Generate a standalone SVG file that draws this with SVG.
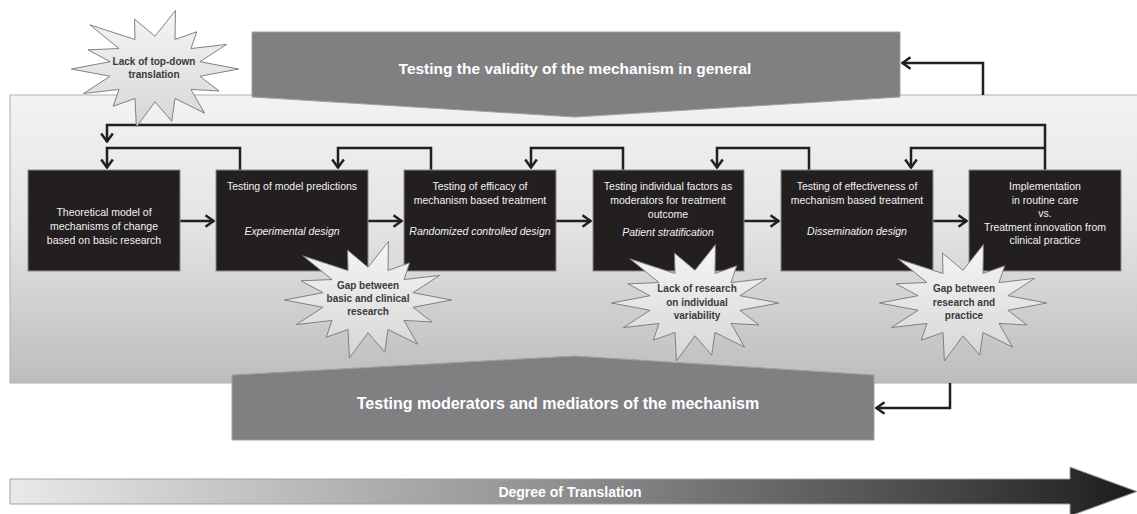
<svg xmlns="http://www.w3.org/2000/svg" width="1137" height="514" viewBox="0 0 1137 514">
<style>
.box{fill:#231f20;stroke:#8a8a8a;stroke-width:1}
.bt{font-family:"Liberation Sans",Arial,sans-serif;font-size:10.5px;fill:#f2f2f2;text-anchor:middle}
.it{font-style:italic}
.ban{fill:#808083;stroke:#a0a0a0;stroke-width:1}
.bant{font-family:"Liberation Sans",Arial,sans-serif;font-weight:bold;fill:#ffffff;text-anchor:middle}
.st{fill:url(#starg);stroke:#7a7a7a;stroke-width:1}
.stt{font-family:"Liberation Sans",Arial,sans-serif;font-size:10px;font-weight:bold;fill:#3a3a3a;text-anchor:middle}
.con{fill:none;stroke:#231f20;stroke-width:2.5}
</style>
<defs>
<linearGradient id="panelg" x1="0" y1="0" x2="0" y2="1">
<stop offset="0" stop-color="#f3f3f3"/>
<stop offset="0.45" stop-color="#e4e4e4"/>
<stop offset="1" stop-color="#bdbdbd"/>
</linearGradient>
<linearGradient id="starg" x1="0" y1="0" x2="0" y2="1">
<stop offset="0" stop-color="#f5f5f5"/>
<stop offset="1" stop-color="#d6d6d6"/>
</linearGradient>
<linearGradient id="degg" x1="0" y1="0" x2="1" y2="0">
<stop offset="0" stop-color="#e8e9ea"/>
<stop offset="0.5" stop-color="#8d8d8f"/>
<stop offset="0.8" stop-color="#4d4d4f"/>
<stop offset="1" stop-color="#1e1b1c"/>
</linearGradient>
<marker id="arr" viewBox="0 0 11 14" refX="10" refY="7" markerWidth="11" markerHeight="14" markerUnits="userSpaceOnUse" orient="auto">
<path d="M1.5,1.2 L9.5,7 L1.5,12.8" fill="none" stroke="#231f20" stroke-width="2.5"/>
</marker>
<polygon id="star" points="90,0 48.3,7.6 68.9,22.9 38.7,21.3 53.3,46 21.5,30.7 18,54.4 0,34.1 -20,60.4 -21.5,30.7 -44.9,38.8 -38.7,21.3 -77,25.6 -48.3,7.6 -90,0 -48.3,-7.6 -72,-20 -38.7,-21.3 -70,-46 -21.5,-30.7 -22,-52 0,-34.1 22,-61 21.5,-30.7 44.9,-38.8 38.7,-21.3 77,-25.6 48.3,-7.6"/>
</defs>

<rect x="0" y="0" width="1137" height="514" fill="#ffffff"/>

<g id="panel">
<rect x="10" y="95" width="1130" height="288" fill="url(#panelg)" stroke="#b0b0b0" stroke-width="1"/>
</g>

<g id="banner-top">
<path class="ban" d="M252,32 H900 V97 L575,117 L252,97 Z"/>
<text class="bant" x="575" y="74" font-size="15.5">Testing the validity of the mechanism in general</text>
</g>

<g id="banner-bottom">
<path class="ban" d="M232,375 L575,356 L874,375 V440 H232 Z"/>
<text class="bant" x="558" y="409" font-size="16">Testing moderators and mediators of the mechanism</text>
</g>

<g id="connectors">
<path class="con" d="M180,221 H214" marker-end="url(#arr)"/>
<path class="con" d="M368,221 H402" marker-end="url(#arr)"/>
<path class="con" d="M556,221 H591" marker-end="url(#arr)"/>
<path class="con" d="M744,221 H779" marker-end="url(#arr)"/>
<path class="con" d="M933,221 H967" marker-end="url(#arr)"/>
<path class="con" d="M1045,170 V125 H107 V142" marker-end="url(#arr)"/>
<path class="con" d="M1045,148 H911 V168" marker-end="url(#arr)"/>
<path class="con" d="M240,170 V148 H107 V168" marker-end="url(#arr)"/>
<path class="con" d="M431,170 V148 H338 V168" marker-end="url(#arr)"/>
<path class="con" d="M623,170 V148 H531 V168" marker-end="url(#arr)"/>
<path class="con" d="M809,170 V148 H717 V168" marker-end="url(#arr)"/>
<path class="con" d="M983,95 V63 H902" marker-end="url(#arr)"/>
<path class="con" d="M950,383 V408 H876" marker-end="url(#arr)"/>
</g>

<g id="box1">
<rect class="box" x="28" y="170" width="152" height="101"/>
<text class="bt" x="104" y="216">Theoretical model of</text>
<text class="bt" x="104" y="230">mechanisms of change</text>
<text class="bt" x="104" y="244">based on basic research</text>
</g>
<g id="box2">
<rect class="box" x="216" y="170" width="152" height="101"/>
<text class="bt" x="292" y="190">Testing of model predictions</text>
<text class="bt it" x="292" y="235">Experimental design</text>
</g>
<g id="box3">
<rect class="box" x="404" y="170" width="152" height="101"/>
<text class="bt" x="480" y="190">Testing of efficacy of</text>
<text class="bt" x="480" y="204">mechanism based treatment</text>
<text class="bt it" x="480" y="235">Randomized controlled design</text>
</g>
<g id="box4">
<rect class="box" x="593" y="170" width="151" height="101"/>
<text class="bt" x="668" y="190">Testing individual factors as</text>
<text class="bt" x="668" y="204">moderators for treatment</text>
<text class="bt" x="668" y="218">outcome</text>
<text class="bt it" x="668" y="236">Patient stratification</text>
</g>
<g id="box5">
<rect class="box" x="781" y="170" width="152" height="101"/>
<text class="bt" x="857" y="190">Testing of effectiveness of</text>
<text class="bt" x="857" y="204">mechanism based treatment</text>
<text class="bt it" x="857" y="235">Dissemination design</text>
</g>
<g id="box6">
<rect class="box" x="969" y="170" width="152" height="101"/>
<text class="bt" x="1045" y="190">Implementation</text>
<text class="bt" x="1045" y="204">in routine care</text>
<text class="bt" x="1045" y="217">vs.</text>
<text class="bt" x="1045" y="231">Treatment innovation from</text>
<text class="bt" x="1045" y="244">clinical practice</text>
</g>

<g id="star1">
<use href="#star" class="st" transform="translate(155,69) scale(0.93,0.96)"/>
<text class="stt" x="154" y="65">Lack of top-down</text>
<text class="stt" x="154" y="78">translation</text>
</g>
<g id="star2">
<use href="#star" class="st" transform="translate(368,300) scale(0.93,0.96)"/>
<text class="stt" x="368" y="289">Gap between</text>
<text class="stt" x="368" y="302">basic and clinical</text>
<text class="stt" x="368" y="315">research</text>
</g>
<g id="star3">
<use href="#star" class="st" transform="translate(695,303) scale(0.93,0.96)"/>
<text class="stt" x="697" y="292">Lack of research</text>
<text class="stt" x="697" y="306">on individual</text>
<text class="stt" x="697" y="319">variability</text>
</g>
<g id="star4">
<use href="#star" class="st" transform="translate(963,303) scale(0.93,0.96)"/>
<text class="stt" x="964" y="292">Gap between</text>
<text class="stt" x="964" y="306">research and</text>
<text class="stt" x="964" y="319">practice</text>
</g>

<g id="degree">
<path d="M10,479 H1070 V467 L1137,491.5 L1070,516 V504 H10 Z" fill="url(#degg)" stroke="#a0a0a0" stroke-width="1"/>
<text x="570" y="497" font-family="Liberation Sans, Arial, sans-serif" font-size="14" font-weight="bold" fill="#ffffff" text-anchor="middle">Degree of Translation</text>
</g>
</svg>
